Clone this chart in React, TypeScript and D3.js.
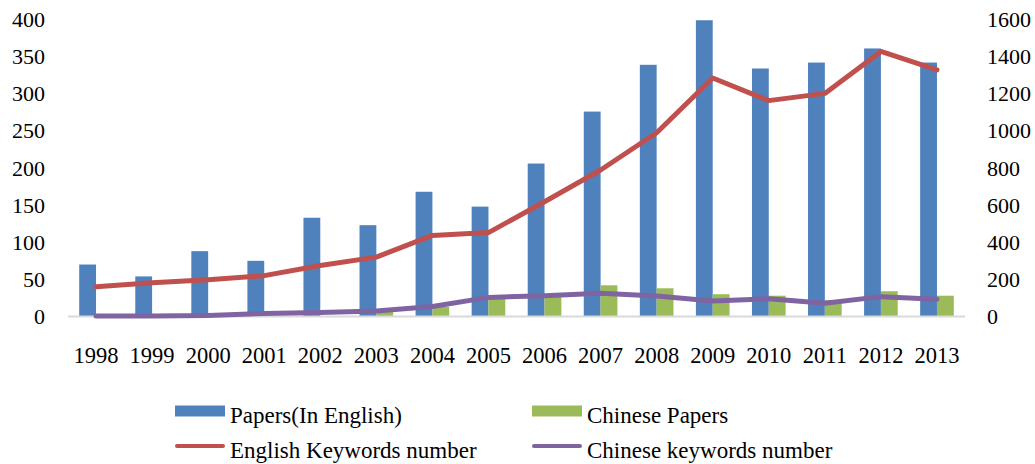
import * as d3 from "d3";

const years = ["1998", "1999", "2000", "2001", "2002", "2003", "2004", "2005", "2006", "2007", "2008", "2009", "2010", "2011", "2012", "2013"];
const englishPapers = [70, 54, 88, 75, 133, 123, 168, 148, 206, 276, 339, 399, 334, 342, 361, 342];
const chinesePapers = [0, 0, 0, 0, 0, 10, 13, 25, 30, 42, 38, 30, 28, 22, 34, 28];
const englishKeywords = [160, 182, 198, 220, 275, 320, 437, 452, 618, 789, 990, 1285, 1163, 1202, 1428, 1328];
const chineseKeywords = [3, 3, 6, 16, 21, 30, 54, 103, 112, 125, 110, 83, 96, 71, 107, 93];
const leftTicks = [0, 50, 100, 150, 200, 250, 300, 350, 400];
const rightTicks = [0, 200, 400, 600, 800, 1000, 1200, 1400, 1600];

const W = 1035;
const H = 464;
const PLOT = { left: 68, right: 965, top: 19.5, bottom: 316.5 };
const FONT = '"Liberation Serif", "Times New Roman", serif';

const BLUE = "#4F81BD";
const GREEN = "#9BBB59";
const RED = "#C0504D";
const PURPLE = "#8064A2";

export default function App() {
  const x = d3.scaleBand<string>().domain(years).range([PLOT.left, PLOT.right]).padding(0);
  const bw = x.bandwidth();
  const barW = bw * 0.3;
  const cx = (yr: string) => (x(yr) ?? 0) + bw / 2;

  const yL = d3.scaleLinear().domain([0, 400]).range([PLOT.bottom, PLOT.top]);
  const yR = d3.scaleLinear().domain([0, 1600]).range([PLOT.bottom, PLOT.top]);

  const line = d3
    .line<number>()
    .x((_, i) => cx(years[i]))
    .y((d) => yR(d));

  const legend = [
    { label: "Papers(In English)", color: BLUE, kind: "rect", x: 175, y: 411 },
    { label: "Chinese Papers", color: GREEN, kind: "rect", x: 532, y: 411 },
    { label: "English Keywords number", color: RED, kind: "line", x: 175, y: 446 },
    { label: "Chinese keywords number", color: PURPLE, kind: "line", x: 532, y: 446 },
  ];

  return (
    <svg
      width={W}
      height={H}
      viewBox={`0 0 ${W} ${H}`}
      style={{ position: "absolute", left: 0, top: 0, background: "#fff" }}
      fontFamily={FONT}
    >
      {/* bars */}
      {years.map((yr, i) => (
        <g key={yr}>
          <rect x={cx(yr) - barW} y={yL(englishPapers[i])} width={barW} height={PLOT.bottom - yL(englishPapers[i])} fill={BLUE} />
          <rect x={cx(yr)} y={yL(chinesePapers[i])} width={barW} height={PLOT.bottom - yL(chinesePapers[i])} fill={GREEN} />
        </g>
      ))}

      {/* baseline */}
      <line x1={PLOT.left} x2={PLOT.right} y1={PLOT.bottom} y2={PLOT.bottom} stroke="#D9D9D9" strokeWidth={2} />

      {/* lines */}
      <path d={line(englishKeywords) ?? undefined} fill="none" stroke={RED} strokeWidth={5} strokeLinejoin="round" strokeLinecap="round" />
      <path d={line(chineseKeywords) ?? undefined} fill="none" stroke={PURPLE} strokeWidth={5} strokeLinejoin="round" strokeLinecap="round" />

      {/* left axis */}
      {leftTicks.map((t) => (
        <text key={`l${t}`} x={45} y={yL(t) + 7.5} textAnchor="end" fontSize={22} fill="#000">
          {t}
        </text>
      ))}

      {/* right axis */}
      {rightTicks.map((t) => (
        <text key={`r${t}`} x={987} y={yR(t) + 7.5} textAnchor="start" fontSize={22} fill="#000">
          {t}
        </text>
      ))}

      {/* x labels */}
      {years.map((yr) => (
        <text key={`x${yr}`} x={cx(yr)} y={363} textAnchor="middle" fontSize={22.5} fill="#000">
          {yr}
        </text>
      ))}

      {/* legend */}
      {legend.map((l) => (
        <g key={l.label}>
          {l.kind === "rect" ? (
            <rect x={l.x} y={l.y - 5.5} width={50} height={11} fill={l.color} />
          ) : (
            <line x1={l.x + 2} x2={l.x + 48} y1={l.y} y2={l.y} stroke={l.color} strokeWidth={4} strokeLinecap="round" />
          )}
          <text x={l.x + 55} y={l.y + 12} fontSize={23} fill="#000">
            {l.label}
          </text>
        </g>
      ))}
    </svg>
  );
}
